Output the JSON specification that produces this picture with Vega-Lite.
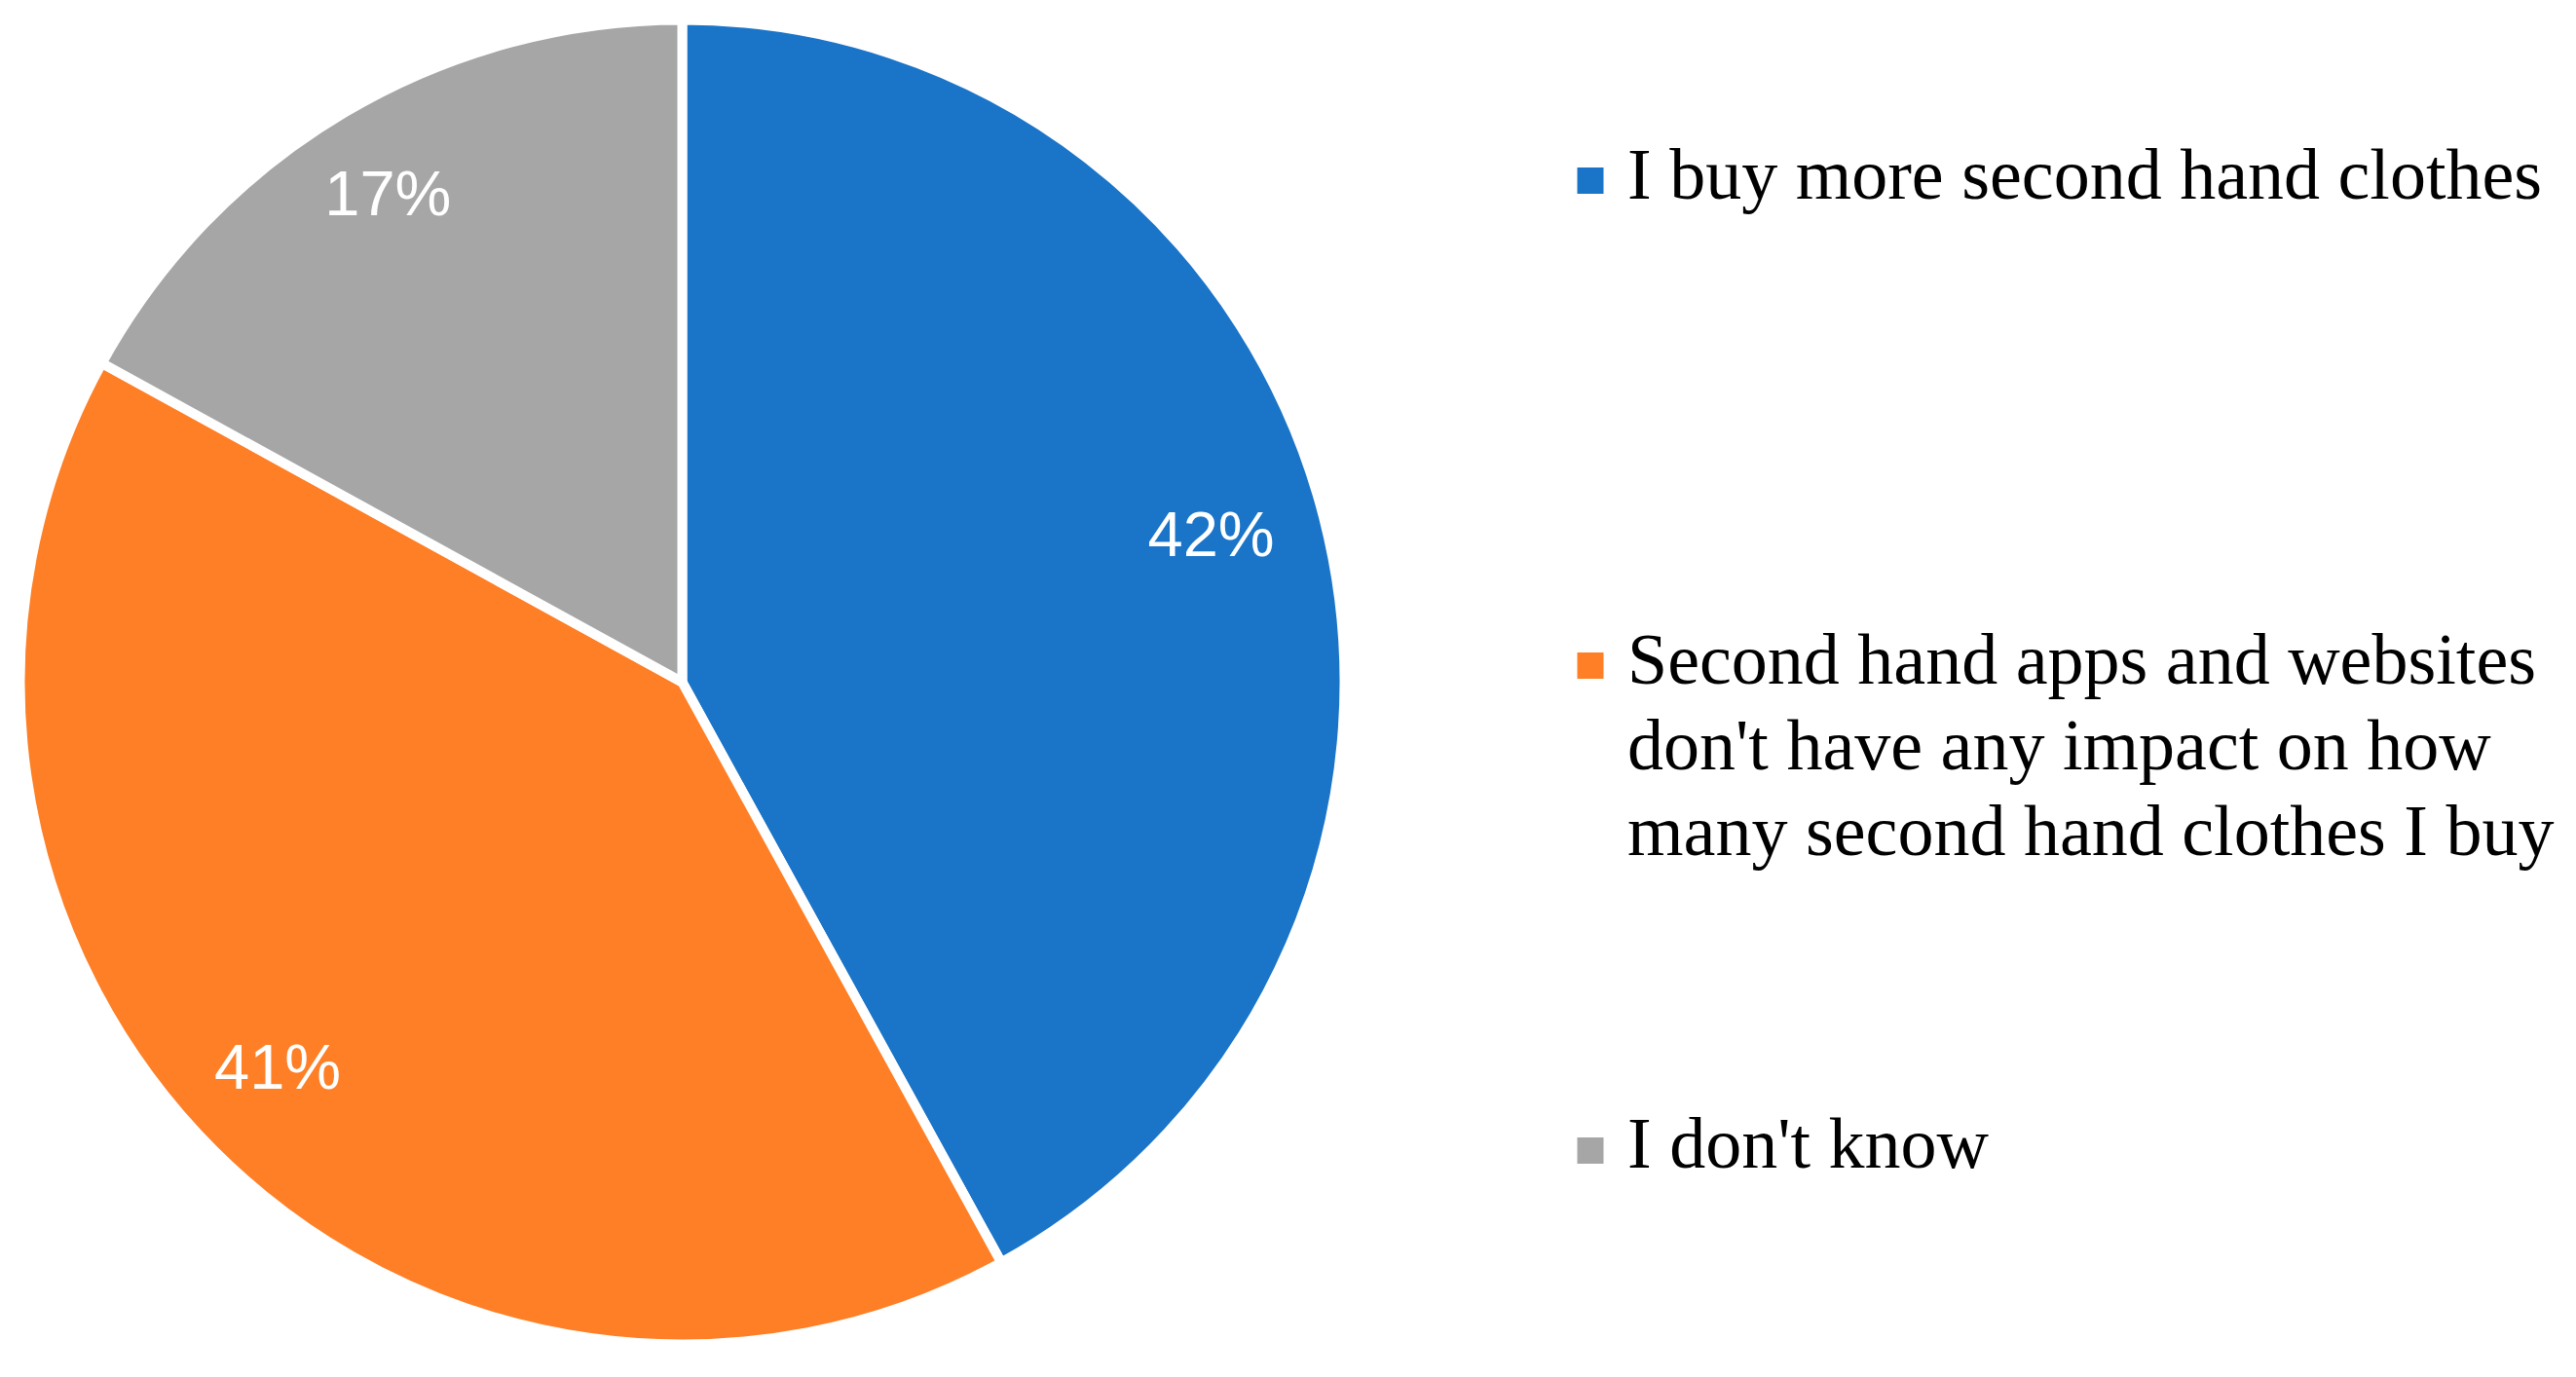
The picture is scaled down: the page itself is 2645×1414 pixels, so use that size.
{
  "$schema": "https://vega.github.io/schema/vega-lite/v6.json",
  "padding": 0,
  "background": "white",
  "spacing": 234,
  "bounds": "flush",
  "config": {"view": {"stroke": null}},
  "data": {
    "values": [
      {"category": "I buy more second hand clothes", "legend": "I buy more second hand clothes", "value": 42, "label": "42%", "order": 1},
      {"category": "Second hand apps and websites don't have any impact on how many second hand clothes I buy", "legend": "Second hand apps and websites\ndon't have any impact on how\nmany second hand clothes I buy", "value": 41, "label": "41%", "order": 2},
      {"category": "I don't know", "legend": "I don't know", "value": 17, "label": "17%", "order": 3}
    ]
  },
  "hconcat": [
    {
      "width": 1397,
      "height": 1401,
      "encoding": {
        "theta": {"field": "value", "type": "quantitative", "stack": true},
        "order": {"field": "order", "type": "quantitative"},
        "color": {
          "field": "category",
          "type": "nominal",
          "legend": null,
          "scale": {
            "domain": ["I buy more second hand clothes", "Second hand apps and websites don't have any impact on how many second hand clothes I buy", "I don't know"],
            "range": ["#1A74C8", "#FE7F26", "#A6A6A6"]
          }
        }
      },
      "layer": [
        {"mark": {"type": "arc", "radius": 680, "stroke": "white", "strokeWidth": 10}},
        {
          "mark": {"type": "text", "radius": 572, "dx": -11, "dy": -7, "font": "Liberation Sans", "fontSize": 65, "fill": "white", "align": "center", "baseline": "middle"},
          "encoding": {"text": {"field": "label"}, "color": {"value": "white"}}
        }
      ]
    },
    {
      "width": 1000,
      "height": 1367,
      "encoding": {
        "y": {
          "field": "category",
          "type": "ordinal",
          "sort": {"field": "order"},
          "scale": {"type": "point", "padding": 0.3725},
          "axis": null
        },
        "x": {"datum": 0, "type": "quantitative", "scale": {"domain": [0, 1]}, "axis": null}
      },
      "layer": [
        {
          "mark": {"type": "square", "size": 729, "filled": true, "opacity": 1},
          "encoding": {
            "color": {
              "field": "category",
              "type": "nominal",
              "legend": null,
              "scale": {
                "domain": ["I buy more second hand clothes", "Second hand apps and websites don't have any impact on how many second hand clothes I buy", "I don't know"],
                "range": ["#1A74C8", "#FE7F26", "#A6A6A6"]
              }
            }
          }
        },
        {
          "mark": {"type": "text", "align": "left", "baseline": "alphabetic", "dx": 38, "dy": 18, "font": "Liberation Serif", "fontSize": 74, "lineHeight": 88, "lineBreak": "\n", "fill": "black"},
          "encoding": {"text": {"field": "legend"}}
        }
      ]
    }
  ]
}
